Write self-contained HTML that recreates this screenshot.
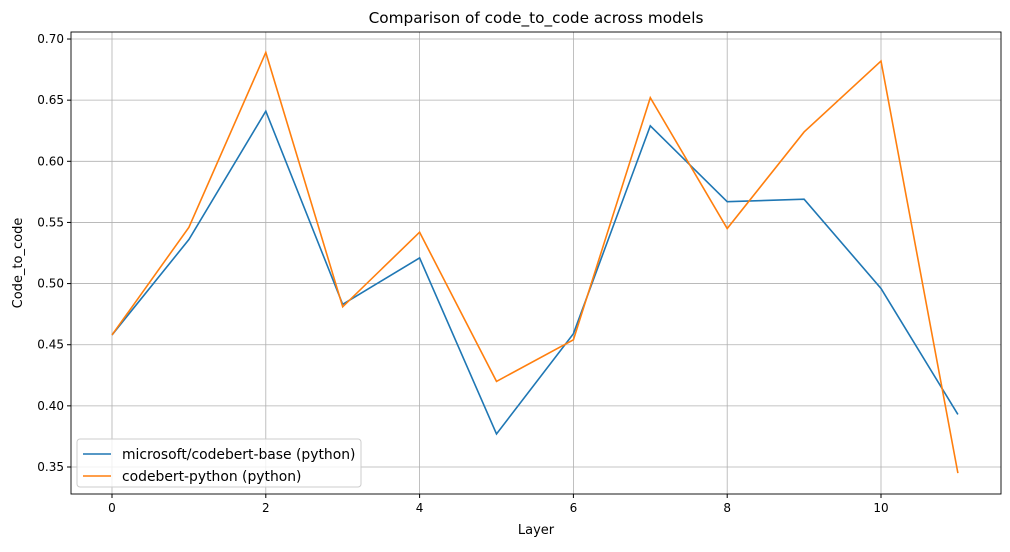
<!DOCTYPE html>
<html><head><meta charset="utf-8"><style>
body{margin:0;background:#fff;font-family:"Liberation Sans","DejaVu Sans",sans-serif}
svg text{font-family:"DejaVu Sans","Liberation Sans",sans-serif}
</style></head><body>
<svg id="c" width="1010" height="547"></svg>
<script>
const layers=[0,1,2,3,4,5,6,7,8,9,10,11];
const baseVals=[0.458,0.536,0.641,0.483,0.521,0.377,0.459,0.629,0.567,0.569,0.496,0.393];
const pyVals=[0.458,0.546,0.689,0.481,0.542,0.420,0.454,0.652,0.545,0.624,0.682,0.345];
const xTicks=[0,2,4,6,8,10];
const yTicks=[0.35,0.40,0.45,0.50,0.55,0.60,0.65,0.70];
const L=71,R=1001,T=32,B=494;
const xs=v=>112+v*76.9;
const ys=v=>467-(v-0.35)/0.05*61.14;
const svg=document.getElementById('c');
const NS='http://www.w3.org/2000/svg';
function mk(t,a,txt){const e=document.createElementNS(NS,t);for(const k in a)e.setAttribute(k,a[k]);if(txt!==undefined)e.textContent=txt;svg.appendChild(e);return e;}
xTicks.forEach(v=>{const x=xs(v);
 let g=mk('line',{x1:x,x2:x,y1:T,y2:B,stroke:'#b0b0b0','stroke-width':0.8});
 
 let t=mk('line',{x1:x,x2:x,y1:B,y2:B+4,stroke:'#000'});
 
 let l=mk('text',{x:x,y:B+18,'text-anchor':'middle','font-size':12},String(v));
 });
yTicks.forEach(v=>{const y=ys(v);
 let g=mk('line',{x1:L,x2:R,y1:y,y2:y,stroke:'#b0b0b0','stroke-width':0.8});
 
 let t=mk('line',{x1:L-4,x2:L,y1:y,y2:y,stroke:'#000'});
 
 let l=mk('text',{x:L-7,y:y+4,'text-anchor':'end','font-size':12},v.toFixed(2));
 });
function line(vals,col,name){const p=vals.map((v,i)=>xs(layers[i])+','+ys(v)).join(' ');
 let e=mk('polyline',{points:p,fill:'none',stroke:col,'stroke-width':1.6});
 }
line(baseVals,'#1f77b4','series-codebert-base');
line(pyVals,'#ff7f0e','series-codebert-python');
let f=mk('rect',{x:L,y:T,width:R-L,height:B-T,fill:'none',stroke:'#000','stroke-width':0.9});

let ti=mk('text',{x:(L+R)/2,y:23,'text-anchor':'middle','font-size':15.3},'Comparison of code_to_code across models');

let xt=mk('text',{x:(L+R)/2,y:534,'text-anchor':'middle','font-size':13},'Layer');

let yt=mk('text',{x:22,y:(T+B)/2,'text-anchor':'middle','font-size':13,transform:'rotate(-90 22 '+((T+B)/2)+')'},'Code_to_code');

let lg=mk('rect',{x:77,y:439,width:284,height:48,rx:3,fill:'#fff','fill-opacity':0.8,stroke:'#ccc'});

[['microsoft/codebert-base (python)','#1f77b4',454],['codebert-python (python)','#ff7f0e',476]].forEach(([n,c,y])=>{
 let s=mk('line',{x1:83,x2:111,y1:y,y2:y,stroke:c,'stroke-width':1.6});
 
 let t=mk('text',{x:122,y:y+5,'font-size':13.9},n);
 });
</script>
</body></html>
